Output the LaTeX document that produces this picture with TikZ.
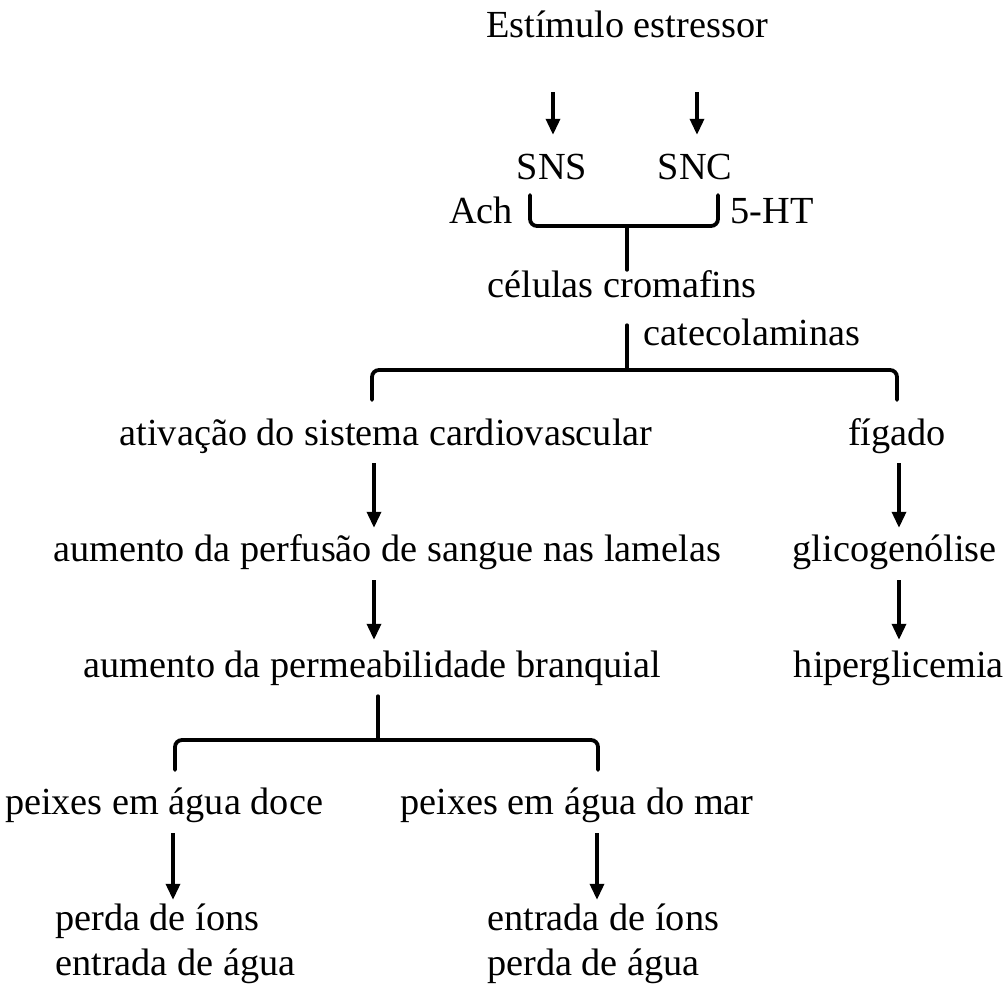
\documentclass[tikz,border=0pt]{standalone}
\usepackage{fontspec}
\setmainfont{Liberation Serif}
\usetikzlibrary{arrows.meta}
\begin{document}
\begin{tikzpicture}[x=1pt,y=-1pt,
  txt/.style={inner sep=0pt,anchor=base,text height=27pt,text depth=9pt,font=\fontsize{38.3}{44}\selectfont},
  lft/.style={txt,anchor=base west},
  arr/.style={line width=3.4pt,-{Triangle[width=14pt,length=16pt]}},
  bracestyle/.style={line width=3.8pt,rounded corners=7pt,line cap=round}]
\useasboundingbox (0,0) rectangle (1005,989);
\fill[white] (0,0) rectangle (1005,989);
% texts
\node[txt] (est) at (627,37) {Estímulo estressor};
\node[txt] (sns) at (552,179) {SNS};
\node[txt] (snc) at (695,179) {SNC};
\node[txt] (ach) at (481,223) {Ach};
\node[txt] (ht) at (772,223) {5-HT};
\node[txt] (cel) at (622,297) {células cromafins};
\node[txt] (cat) at (752,345) {catecolaminas};
\node[txt] (ativ) at (386,445) {ativação do sistema cardiovascular};
\node[txt] (fig) at (897,445) {fígado};
\node[txt] (perf) at (387,561) {aumento da perfusão de sangue nas lamelas};
\node[txt,anchor=base east] (glic) at (997,561) {glicogenólise};
\node[txt] (perm) at (372,677) {aumento da permeabilidade branquial};
\node[txt,anchor=base east] (hip) at (1004,677) {hiperglicemia};
\node[txt] (doce) at (164,814) {peixes em água doce};
\node[txt] (mar) at (577,814) {peixes em água do mar};
\node[lft] (pi) at (55,930) {perda de íons};
\node[lft] (ea) at (55,975) {entrada de água};
\node[lft] (ei) at (487,930) {entrada de íons};
\node[lft] (pa) at (487,975) {perda de água};
% arrows
\draw[arr,shorten <=46pt,shorten >=17pt] (est.south -| 553,0) -- (sns.north -| 553,0);
\draw[arr,shorten <=46pt,shorten >=17pt] (est.south -| 697,0) -- (snc.north -| 697,0);
\draw[arr,shorten <=9pt,shorten >=6pt] (ativ.south -| 374,0) -- (perf.north -| 374,0);
\draw[arr,shorten <=9pt,shorten >=6pt] (fig.south -| 899,0) -- (glic.north -| 899,0);
\draw[arr,shorten <=10pt,shorten >=10pt] (perf.south -| 374,0) -- (perm.north -| 374,0);
\draw[arr,shorten <=10pt,shorten >=10pt] (glic.south -| 899,0) -- (hip.north -| 899,0);
\draw[arr,shorten <=10pt,shorten >=3pt] (doce.south -| 173,0) -- (pi.north -| 173,0);
\draw[arr,shorten <=10pt,shorten >=3pt] (mar.south -| 597,0) -- (ei.north -| 597,0);
% braces
\coordinate (b1l) at (530,195); \coordinate (b1m) at (627,226); \coordinate (b1r) at (718,195);
\draw[bracestyle] (b1l) |- (b1m) -| (b1r);
\draw[bracestyle] (b1m) -- (b1m |- cel.north);
\coordinate (b2l) at (372,400); \coordinate (b2m) at (627,370); \coordinate (b2r) at (897,400);
\draw[bracestyle] (b2l) |- (b2m) -| (b2r);
\draw[bracestyle,shorten <=19pt] (b2m |- cel.south) -- (b2m);
\coordinate (b3l) at (175,770); \coordinate (b3m) at (378,740); \coordinate (b3r) at (598,770);
\draw[bracestyle] (b3l) |- (b3m) -| (b3r);
\draw[bracestyle,shorten <=10pt] (b3m |- perm.south) -- (b3m);
\end{tikzpicture}
\end{document}
